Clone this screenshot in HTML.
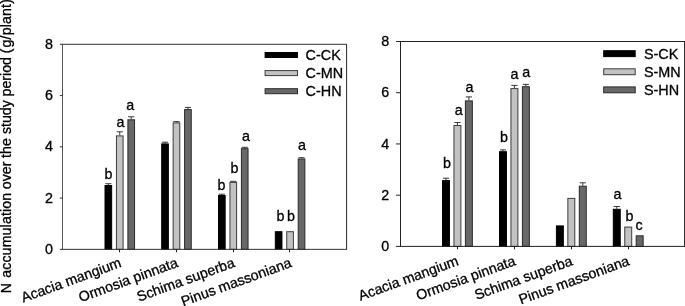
<!DOCTYPE html>
<html><head><meta charset="utf-8"><title>chart</title>
<style>html,body{margin:0;padding:0;background:#fff;}body{width:685px;height:306px;overflow:hidden;font-family:"Liberation Sans", sans-serif;}svg{display:block;will-change:transform}text{stroke:#000;stroke-width:0.3px}</style>
</head><body>
<svg width="685" height="306" viewBox="0 0 685 306" font-family='"Liberation Sans", sans-serif' font-size="14.3" fill="#000">
<rect width="685" height="306" fill="#fff"/>
<text transform="translate(11,293.20) rotate(-90)" font-size="14.15" letter-spacing="0">N</text>
<text transform="translate(11,277.85) rotate(-90)" font-size="14.15" letter-spacing="0.155">accumulation</text>
<text transform="translate(11,189.14) rotate(-90)" font-size="14.15" letter-spacing="0">over</text>
<text transform="translate(11,157.89) rotate(-90)" font-size="14.15" letter-spacing="0">the</text>
<text transform="translate(11,133.99) rotate(-90)" font-size="14.15" letter-spacing="0">study</text>
<text transform="translate(11,96.43) rotate(-90)" font-size="14.15" letter-spacing="0">period</text>
<text transform="translate(11,53.36) rotate(-90)" font-size="14.15" letter-spacing="0">(</text>
<text transform="translate(11,47.45) rotate(-90)" font-size="14.15" letter-spacing="0.17">g/plant)</text>
<path d="M108.33 185.00V183.70M105.23 183.70H111.42" stroke="#222" stroke-width="0.9" fill="none"/>
<rect x="105.00" y="185.50" width="6.65" height="63.85" fill="#000" stroke="#000" stroke-width="1.0"/>
<path d="M119.78 135.40V131.80M116.68 131.80H122.88" stroke="#222" stroke-width="0.9" fill="none"/>
<rect x="116.45" y="135.90" width="6.65" height="113.45" fill="#c2c2c2" stroke="#3c3c3c" stroke-width="1.0"/>
<path d="M131.22 119.30V116.80M128.12 116.80H134.32" stroke="#222" stroke-width="0.9" fill="none"/>
<rect x="127.90" y="119.80" width="6.65" height="129.55" fill="#686868" stroke="#2a2a2a" stroke-width="1.0"/>
<text x="108.4" y="179.4" text-anchor="middle">b</text>
<text x="120.5" y="126.6" text-anchor="middle">a</text>
<text x="130.3" y="110.1" text-anchor="middle">a</text>
<path d="M165.02 143.40V142.20M161.92 142.20H168.12" stroke="#222" stroke-width="0.9" fill="none"/>
<rect x="161.70" y="143.90" width="6.65" height="105.45" fill="#000" stroke="#000" stroke-width="1.0"/>
<path d="M176.47 122.40V121.60M173.37 121.60H179.57" stroke="#222" stroke-width="0.9" fill="none"/>
<rect x="173.15" y="122.90" width="6.65" height="126.45" fill="#c2c2c2" stroke="#3c3c3c" stroke-width="1.0"/>
<path d="M187.92 109.10V107.40M184.82 107.40H191.02" stroke="#222" stroke-width="0.9" fill="none"/>
<rect x="184.60" y="109.60" width="6.65" height="139.75" fill="#686868" stroke="#2a2a2a" stroke-width="1.0"/>
<path d="M221.82 195.00V194.20M218.72 194.20H224.92" stroke="#222" stroke-width="0.9" fill="none"/>
<rect x="218.50" y="195.50" width="6.65" height="53.85" fill="#000" stroke="#000" stroke-width="1.0"/>
<path d="M233.27 181.90V181.30M230.17 181.30H236.37" stroke="#222" stroke-width="0.9" fill="none"/>
<rect x="229.95" y="182.40" width="6.65" height="66.95" fill="#c2c2c2" stroke="#3c3c3c" stroke-width="1.0"/>
<path d="M244.72 148.20V147.30M241.62 147.30H247.82" stroke="#222" stroke-width="0.9" fill="none"/>
<rect x="241.40" y="148.70" width="6.65" height="100.65" fill="#686868" stroke="#2a2a2a" stroke-width="1.0"/>
<text x="221.5" y="190.3" text-anchor="middle">b</text>
<text x="234.4" y="173.4" text-anchor="middle">b</text>
<text x="246" y="140.7" text-anchor="middle">a</text>
<rect x="275.30" y="231.70" width="6.65" height="17.65" fill="#000" stroke="#000" stroke-width="1.0"/>
<rect x="286.75" y="231.70" width="6.65" height="17.65" fill="#c2c2c2" stroke="#3c3c3c" stroke-width="1.0"/>
<path d="M301.52 158.50V157.70M298.42 157.70H304.62" stroke="#222" stroke-width="0.9" fill="none"/>
<rect x="298.20" y="159.00" width="6.65" height="90.35" fill="#686868" stroke="#2a2a2a" stroke-width="1.0"/>
<text x="280.4" y="221.2" text-anchor="middle">b</text>
<text x="291.1" y="221.2" text-anchor="middle">b</text>
<text x="302" y="150.4" text-anchor="middle">a</text>
<path d="M62.5 44.3V249.35" stroke="#555" stroke-width="1" fill="none"/>
<path d="M346.55 44.3V249.35" stroke="#3a3a3a" stroke-width="1.1" fill="none"/>
<path d="M62.0 44.3H347.05M62.0 249.35H347.05" stroke="#333" stroke-width="1" fill="none"/>
<path d="M59.8 249.35H62.5" stroke="#333" stroke-width="1"/>
<text x="52.9" y="254.00" text-anchor="end">0</text>
<path d="M59.8 198.09H62.5" stroke="#333" stroke-width="1"/>
<text x="52.9" y="202.74" text-anchor="end">2</text>
<path d="M59.8 146.82H62.5" stroke="#333" stroke-width="1"/>
<text x="52.9" y="151.47" text-anchor="end">4</text>
<path d="M59.8 95.56H62.5" stroke="#333" stroke-width="1"/>
<text x="52.9" y="100.21" text-anchor="end">6</text>
<path d="M59.8 44.30H62.5" stroke="#333" stroke-width="1"/>
<text x="52.9" y="48.95" text-anchor="end">8</text>
<path d="M119.50 249.35V252.25" stroke="#222" stroke-width="1"/>
<text transform="translate(122.28,266.55) rotate(-20)" text-anchor="end" font-size="14.25">Acacia mangium</text>
<path d="M176.50 249.35V252.25" stroke="#222" stroke-width="1"/>
<text transform="translate(178.97,266.55) rotate(-20)" text-anchor="end" font-size="14.25">Ormosia pinnata</text>
<path d="M233.50 249.35V252.25" stroke="#222" stroke-width="1"/>
<text transform="translate(235.77,266.55) rotate(-20)" text-anchor="end" font-size="14.25">Schima superba</text>
<path d="M289.50 249.35V252.25" stroke="#222" stroke-width="1"/>
<text transform="translate(292.57,266.55) rotate(-20)" text-anchor="end" font-size="14.25">Pinus massoniana</text>
<rect x="265.10" y="52.50" width="32.40" height="5.00" fill="#000" stroke="#000" stroke-width="1.0"/>
<text x="305.6" y="60.00" font-size="14.4">C-CK</text>
<rect x="265.10" y="70.60" width="32.40" height="5.00" fill="#c2c2c2" stroke="#3c3c3c" stroke-width="1.0"/>
<text x="305.6" y="78.10" font-size="14.4">C-MN</text>
<rect x="265.10" y="88.70" width="32.40" height="5.00" fill="#686868" stroke="#2a2a2a" stroke-width="1.0"/>
<text x="305.6" y="96.20" font-size="14.4">C-HN</text>
<path d="M445.98 180.10V178.20M442.88 178.20H449.08" stroke="#222" stroke-width="0.9" fill="none"/>
<rect x="442.50" y="180.60" width="6.95" height="65.80" fill="#000" stroke="#000" stroke-width="1.0"/>
<path d="M457.43 125.00V122.50M454.32 122.50H460.53" stroke="#222" stroke-width="0.9" fill="none"/>
<rect x="453.95" y="125.50" width="6.95" height="120.90" fill="#c2c2c2" stroke="#3c3c3c" stroke-width="1.0"/>
<path d="M468.88 100.40V96.90M465.77 96.90H471.98" stroke="#222" stroke-width="0.9" fill="none"/>
<rect x="465.40" y="100.90" width="6.95" height="145.50" fill="#686868" stroke="#2a2a2a" stroke-width="1.0"/>
<text x="447.1" y="167.9" text-anchor="middle">b</text>
<text x="458.8" y="115" text-anchor="middle">a</text>
<text x="469.4" y="91.8" text-anchor="middle">a</text>
<path d="M502.98 151.20V149.90M499.88 149.90H506.08" stroke="#222" stroke-width="0.9" fill="none"/>
<rect x="499.50" y="151.70" width="6.95" height="94.70" fill="#000" stroke="#000" stroke-width="1.0"/>
<path d="M514.42 88.10V85.40M511.32 85.40H517.52" stroke="#222" stroke-width="0.9" fill="none"/>
<rect x="510.95" y="88.60" width="6.95" height="157.80" fill="#c2c2c2" stroke="#3c3c3c" stroke-width="1.0"/>
<path d="M525.88 86.20V84.40M522.77 84.40H528.98" stroke="#222" stroke-width="0.9" fill="none"/>
<rect x="522.40" y="86.70" width="6.95" height="159.70" fill="#686868" stroke="#2a2a2a" stroke-width="1.0"/>
<text x="503.9" y="142.4" text-anchor="middle">b</text>
<text x="514.4" y="79.3" text-anchor="middle">a</text>
<text x="526.2" y="76.6" text-anchor="middle">a</text>
<rect x="556.40" y="225.90" width="6.95" height="20.50" fill="#000" stroke="#000" stroke-width="1.0"/>
<rect x="567.85" y="198.40" width="6.95" height="48.00" fill="#c2c2c2" stroke="#3c3c3c" stroke-width="1.0"/>
<path d="M582.77 185.70V182.80M579.67 182.80H585.88" stroke="#222" stroke-width="0.9" fill="none"/>
<rect x="579.30" y="186.20" width="6.95" height="60.20" fill="#686868" stroke="#2a2a2a" stroke-width="1.0"/>
<path d="M616.77 208.80V206.50M613.67 206.50H619.88" stroke="#222" stroke-width="0.9" fill="none"/>
<rect x="613.30" y="209.30" width="6.95" height="37.10" fill="#000" stroke="#000" stroke-width="1.0"/>
<rect x="624.75" y="227.10" width="6.95" height="19.30" fill="#c2c2c2" stroke="#3c3c3c" stroke-width="1.0"/>
<rect x="636.20" y="235.80" width="6.95" height="10.60" fill="#686868" stroke="#2a2a2a" stroke-width="1.0"/>
<text x="617.5" y="199.1" text-anchor="middle">a</text>
<text x="629.4" y="220.9" text-anchor="middle">b</text>
<text x="639" y="229.7" text-anchor="middle">c</text>
<path d="M400.5 41.5V246.4" stroke="#222" stroke-width="1" fill="none"/>
<path d="M684.6 41.5V246.4" stroke="#222" stroke-width="1.1" fill="none"/>
<path d="M400.0 41.5H685.1M400.0 246.4H685.1" stroke="#222" stroke-width="1" fill="none"/>
<path d="M396.1 246.40H400.5" stroke="#222" stroke-width="1"/>
<text x="389.2" y="251.05" text-anchor="end">0</text>
<path d="M396.1 195.18H400.5" stroke="#222" stroke-width="1"/>
<text x="389.2" y="199.83" text-anchor="end">2</text>
<path d="M396.1 143.95H400.5" stroke="#222" stroke-width="1"/>
<text x="389.2" y="148.60" text-anchor="end">4</text>
<path d="M396.1 92.72H400.5" stroke="#222" stroke-width="1"/>
<text x="389.2" y="97.38" text-anchor="end">6</text>
<path d="M396.1 41.50H400.5" stroke="#222" stroke-width="1"/>
<text x="389.2" y="46.15" text-anchor="end">8</text>
<path d="M457.50 246.4V249.3" stroke="#222" stroke-width="1"/>
<text transform="translate(459.53,264.70) rotate(-20)" text-anchor="end" font-size="14.25">Acacia mangium</text>
<path d="M514.50 246.4V249.3" stroke="#222" stroke-width="1"/>
<text transform="translate(516.52,264.70) rotate(-20)" text-anchor="end" font-size="14.25">Ormosia pinnata</text>
<path d="M571.50 246.4V249.3" stroke="#222" stroke-width="1"/>
<text transform="translate(573.43,264.70) rotate(-20)" text-anchor="end" font-size="14.25">Schima superba</text>
<path d="M628.50 246.4V249.3" stroke="#222" stroke-width="1"/>
<text transform="translate(630.33,264.70) rotate(-20)" text-anchor="end" font-size="14.25">Pinus massoniana</text>
<rect x="603.70" y="50.70" width="31.50" height="5.90" fill="#000" stroke="#000" stroke-width="1.0"/>
<text x="643.9" y="58.65" font-size="14.4">S-CK</text>
<rect x="603.70" y="68.80" width="31.50" height="5.90" fill="#c2c2c2" stroke="#3c3c3c" stroke-width="1.0"/>
<text x="643.9" y="76.75" font-size="14.4">S-MN</text>
<rect x="603.70" y="86.90" width="31.50" height="5.90" fill="#686868" stroke="#2a2a2a" stroke-width="1.0"/>
<text x="643.9" y="94.85" font-size="14.4">S-HN</text>
</svg>
</body></html>
